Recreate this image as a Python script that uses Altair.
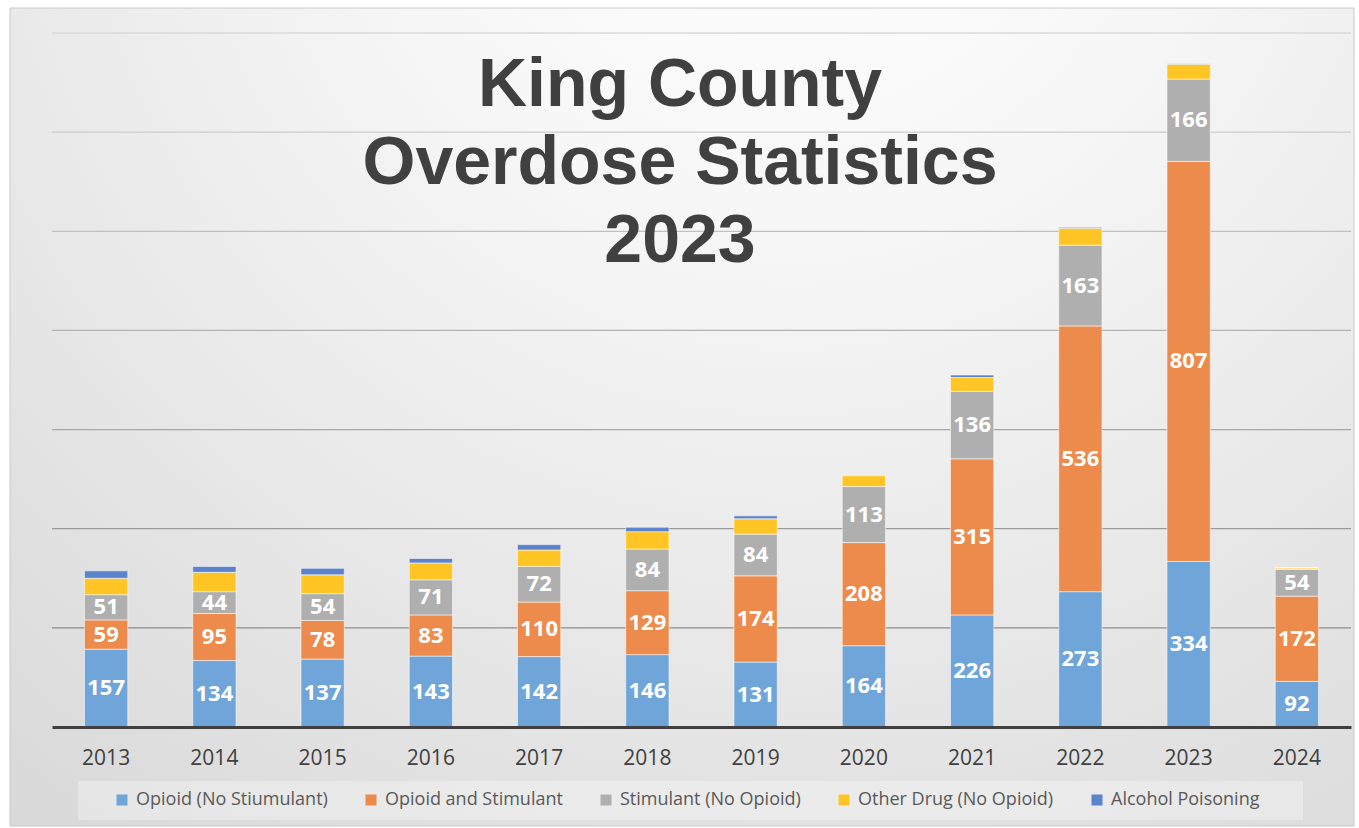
import altair as alt
import pandas as pd

years = ["2013", "2014", "2015", "2016", "2017", "2018", "2019", "2020", "2021", "2022", "2023", "2024"]
series = ["Opioid (No Stiumulant)", "Opioid and Stimulant", "Stimulant (No Opioid)",
          "Other Drug (No Opioid)", "Alcohol Poisoning"]
opioid = [157, 134, 137, 143, 142, 146, 131, 164, 226, 273, 334, 92]
opioid_stim = [59, 95, 78, 83, 110, 129, 174, 208, 315, 536, 807, 172]
stimulant = [51, 44, 54, 71, 72, 84, 84, 113, 136, 163, 166, 54]
other_drug = [33, 39, 38, 34, 33, 35, 31, 22, 28, 34, 30, 3]
alcohol = [15, 12, 13, 9, 11, 9, 6, 1, 5, 2, 1, 0]
grid_values = [200, 400, 600, 800, 1000, 1200, 1400]
title_lines = "King County\nOverdose Statistics\n2023"

colors = ["#6FA5D8", "#EC8B4B", "#AFAFAF", "#FFC524", "#5B84CC"]

rows = []
for si, (name, vals) in enumerate(zip(series, [opioid, opioid_stim, stimulant, other_drug, alcohol])):
    for yr, v in zip(years, vals):
        rows.append({"year": yr, "series": name, "order": si, "value": v})
df = pd.DataFrame(rows)

W, H = 1299, 694
xscale = alt.Scale(domain=years, paddingInner=0.6, paddingOuter=0.3)
yscale = alt.Scale(domain=[0, 1400], nice=False, zero=True)

bg = alt.Chart(alt.Data(values=[{}])).mark_rect(
    color=alt.RadialGradient(
        gradient="radial",
        stops=[
            alt.GradientStop(color="#FFFFFF", offset=0),
            alt.GradientStop(color="#F7F7F7", offset=0.3),
            alt.GradientStop(color="#E8E8E8", offset=0.62),
            alt.GradientStop(color="#D6D6D6", offset=1),
        ],
        x1=0.58, y1=0.05, r1=0, x2=0.58, y2=0.05, r2=1.0,
    ),
    stroke="#C9C9C9", strokeWidth=1,
).encode(x=alt.value(-42), x2=alt.value(1302), y=alt.value(-25), y2=alt.value(793))

grid = alt.Chart(pd.DataFrame({"v": grid_values})).mark_rule(strokeWidth=1.3).encode(
    y=alt.Y("v:Q", scale=yscale, axis=None),
    x=alt.value(0), x2=alt.value(W),
    stroke=alt.Stroke("v:Q", scale=alt.Scale(domain=[200, 1400], range=["#8E8E8E", "#DADADA"]), legend=None),
)

legend_box = alt.Chart(alt.Data(values=[{}])).mark_rect(color="#FFFFFF", opacity=0.3).encode(
    x=alt.value(26), x2=alt.value(1251), y=alt.value(748), y2=alt.value(787)
)

bars = alt.Chart(df).mark_bar(stroke="#FFFFFF", strokeWidth=1, strokeOpacity=0.55).encode(
    x=alt.X("year:N", scale=xscale, sort=years,
            axis=alt.Axis(title=None, labelAngle=0, labelFont="Open Sans", labelFontSize=21,
                          labelColor="#404040", ticks=False, domainColor="#404040", domainWidth=3,
                          labelPadding=20, zindex=1, grid=False)),
    y=alt.Y("value:Q", stack="zero", scale=yscale, axis=None),
    color=alt.Color("series:N", scale=alt.Scale(domain=series, range=colors),
                    legend=alt.Legend(orient="none", legendX=61, legendY=758, direction="horizontal",
                                      columns=5, title=None, symbolType="square", symbolSize=121,
                                      symbolStrokeWidth=0, labelFont="Open Sans", labelFontSize=18,
                                      labelColor="#595959", columnPadding=34, labelOffset=5, padding=0,
                                      labelLimit=0)),
    order=alt.Order("order:Q", sort="ascending"),
)

labels = alt.Chart(df).transform_filter("datum.order < 3").transform_stack(
    stack="value", groupby=["year"], as_=["y0", "y1"], sort=[alt.SortField("order", "ascending")]
).transform_calculate(mid="(datum.y0 + datum.y1) / 2").mark_text(
    font="Open Sans", fontWeight="bold", fontSize=22, color="white", baseline="middle", align="center"
).encode(
    x=alt.X("year:N", scale=xscale, sort=years),
    y=alt.Y("mid:Q", scale=yscale),
    text="value:Q",
)

title = alt.Chart(alt.Data(values=[{"t": title_lines}])).mark_text(
    font="Liberation Sans", fontWeight="bold", fontSize=68, color="#404040",
    align="center", baseline="alphabetic", lineBreak="\n", lineHeight=78,
).encode(x=alt.value(628), y=alt.value(73), text="t:N")

chart = alt.layer(bg, grid, legend_box, bars, labels, title).properties(
    width=W, height=H, autosize=alt.AutoSizeParams(type="none"),
    padding={"left": 52, "top": 33, "right": 8, "bottom": 101},
    background="white",
).configure_view(stroke=None)

chart.save("out.html", embed_options={"renderer": "svg", "actions": False})
